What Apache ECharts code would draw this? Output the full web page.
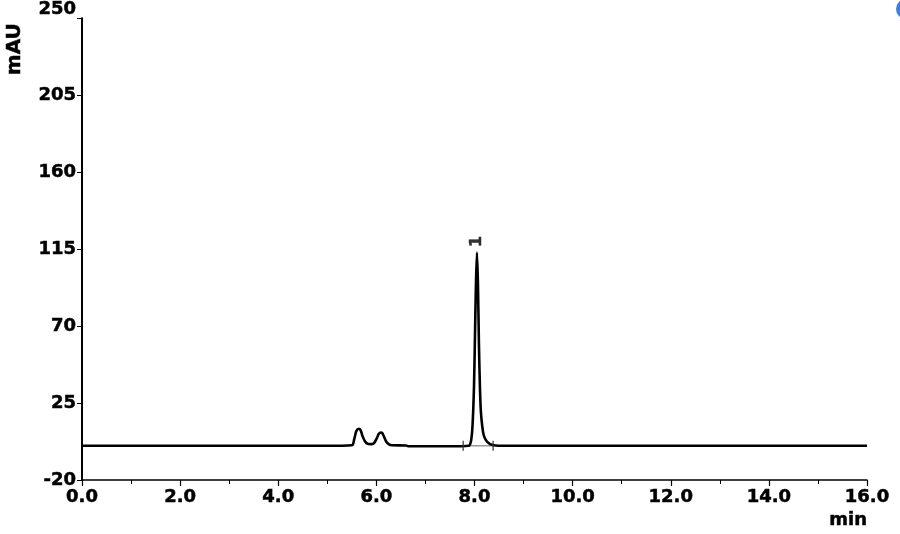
<!DOCTYPE html>
<html><head><meta charset="utf-8">
<script src="https://cdn.jsdelivr.net/npm/echarts@6/dist/echarts.min.js"></script>
<style>html,body{margin:0;padding:0;background:#fff}#c{width:900px;height:534px}</style>
</head><body><div id="c"></div>
<script>
// Chromatogram trace (time in min, signal in mAU)
var traceTime = [0.0, 5.0, 5.50, 5.55, 5.59, 5.64, 5.68, 5.72, 5.77, 5.82, 5.88, 5.95, 6.01, 6.05, 6.09, 6.12, 6.16, 6.20, 6.25, 6.32, 6.60, 6.66, 7.50, 7.88, 7.93, 7.96, 7.99, 8.01, 8.03, 8.05, 8.07, 8.09, 8.11, 8.13, 8.16, 8.19, 8.23, 8.28, 8.35, 8.50, 16.0];
var traceValue = [0.0, 0.0, 0.3, 4.0, 8.5, 10.0, 9.0, 5.5, 2.5, 1.2, 1.0, 1.5, 4.5, 7.0, 7.8, 7.5, 5.0, 2.5, 1.0, 0.3, 0.2, -0.3, -0.3, 0.0, 3.0, 12.0, 35.0, 65.0, 95.0, 113.0, 95.0, 60.0, 35.0, 20.0, 11.0, 6.0, 3.5, 1.8, 0.6, 0.0, 0.0];
// Integration marks for peak 1
var peakLabels = ['1'];
var peakApexTime = [8.05];
var peakApexValue = [113.0];
var peakStartTime = [7.77];
var peakEndTime = [8.38];
// Axis settings
var xMin = 0, xMax = 16, xStep = 2;
var yMin = -20, yMax = 250, yStep = 45;

var FONT = 'DejaVu Sans';
var chart = echarts.init(document.getElementById('c'), null, {renderer: 'canvas'});
var trace = traceTime.map(function (t, i) { return [t, traceValue[i]]; });
var apex = peakApexTime.map(function (t, i) { return {value: [t, peakApexValue[i]], name: peakLabels[i]}; });
var marks = [];
peakStartTime.forEach(function (t, i) { marks.push([t, 0]); marks.push([peakEndTime[i], 0]); });
var baseSeg = [];
peakStartTime.forEach(function (t, i) { baseSeg.push([t, 0]); baseSeg.push([peakEndTime[i], 0]); });

var bold = {fontFamily: FONT, fontWeight: 'bold', color: '#000', textBorderColor: '#000', textBorderWidth: 0.5};

chart.setOption({
  animation: false,
  grid: {left: 82, right: 33, top: 18, bottom: 54},
  xAxis: {
    type: 'value', min: xMin, max: xMax, interval: xStep,
    name: 'min', nameLocation: 'end', nameGap: 0,
    nameTextStyle: Object.assign({}, bold, {fontSize: 18, align: 'right', verticalAlign: 'top', padding: [31, 0, 0, 0]}),
    axisLine: {onZero: false, lineStyle: {color: '#000', width: 1.5}},
    axisTick: {show: true, length: 6, lineStyle: {color: '#000', width: 1.2}},
    minorTick: {show: true, splitNumber: 2, length: 4, lineStyle: {color: '#000', width: 1}},
    splitLine: {show: false},
    axisLabel: Object.assign({}, bold, {fontSize: 18, margin: 8,
      formatter: function (v) { return v.toFixed(1); }})
  },
  yAxis: {
    type: 'value', min: yMin, max: yMax, interval: yStep,
    name: 'mAU', nameLocation: 'end', nameRotate: 90, nameGap: 0,
    nameTextStyle: Object.assign({}, bold, {fontSize: 20, align: 'right', verticalAlign: 'bottom', padding: [0, 5, 57, 0]}),
    axisLine: {show: true, lineStyle: {color: '#000', width: 2}},
    axisTick: {show: true, length: 5, lineStyle: {color: '#000', width: 1}},
    splitLine: {show: false},
    axisLabel: Object.assign({}, bold, {fontSize: 18, margin: 6,
      formatter: function (v) { return v === yMax ? '{t|' + v + '}' : String(v); },
      rich: {t: Object.assign({}, bold, {fontSize: 18, padding: [0, 0, 18, 0]})}})
  },
  series: [
    {type: 'line', data: baseSeg, showSymbol: false, lineStyle: {color: '#999', width: 1.5}, silent: true, z: 1},
    {type: 'line', data: trace, showSymbol: false, smooth: 0.3, lineStyle: {color: '#000', width: 2.6}, silent: true, z: 2},
    {type: 'scatter', data: marks, symbol: 'rect', symbolSize: [1.5, 10], itemStyle: {color: '#333'}, silent: true, z: 3},
    {type: 'scatter', data: apex, symbolSize: 0, silent: true, z: 4,
      label: Object.assign({}, bold, {show: true, position: 'inside', offset: [11, 0], rotate: 90,
        align: 'center', verticalAlign: 'middle', formatter: function (p) { return p.name; }, fontSize: 16})}
  ],
  graphic: [{type: 'circle', shape: {cx: 906, cy: 9, r: 10}, style: {fill: '#3d7fe0'}}]
});
</script></body></html>
